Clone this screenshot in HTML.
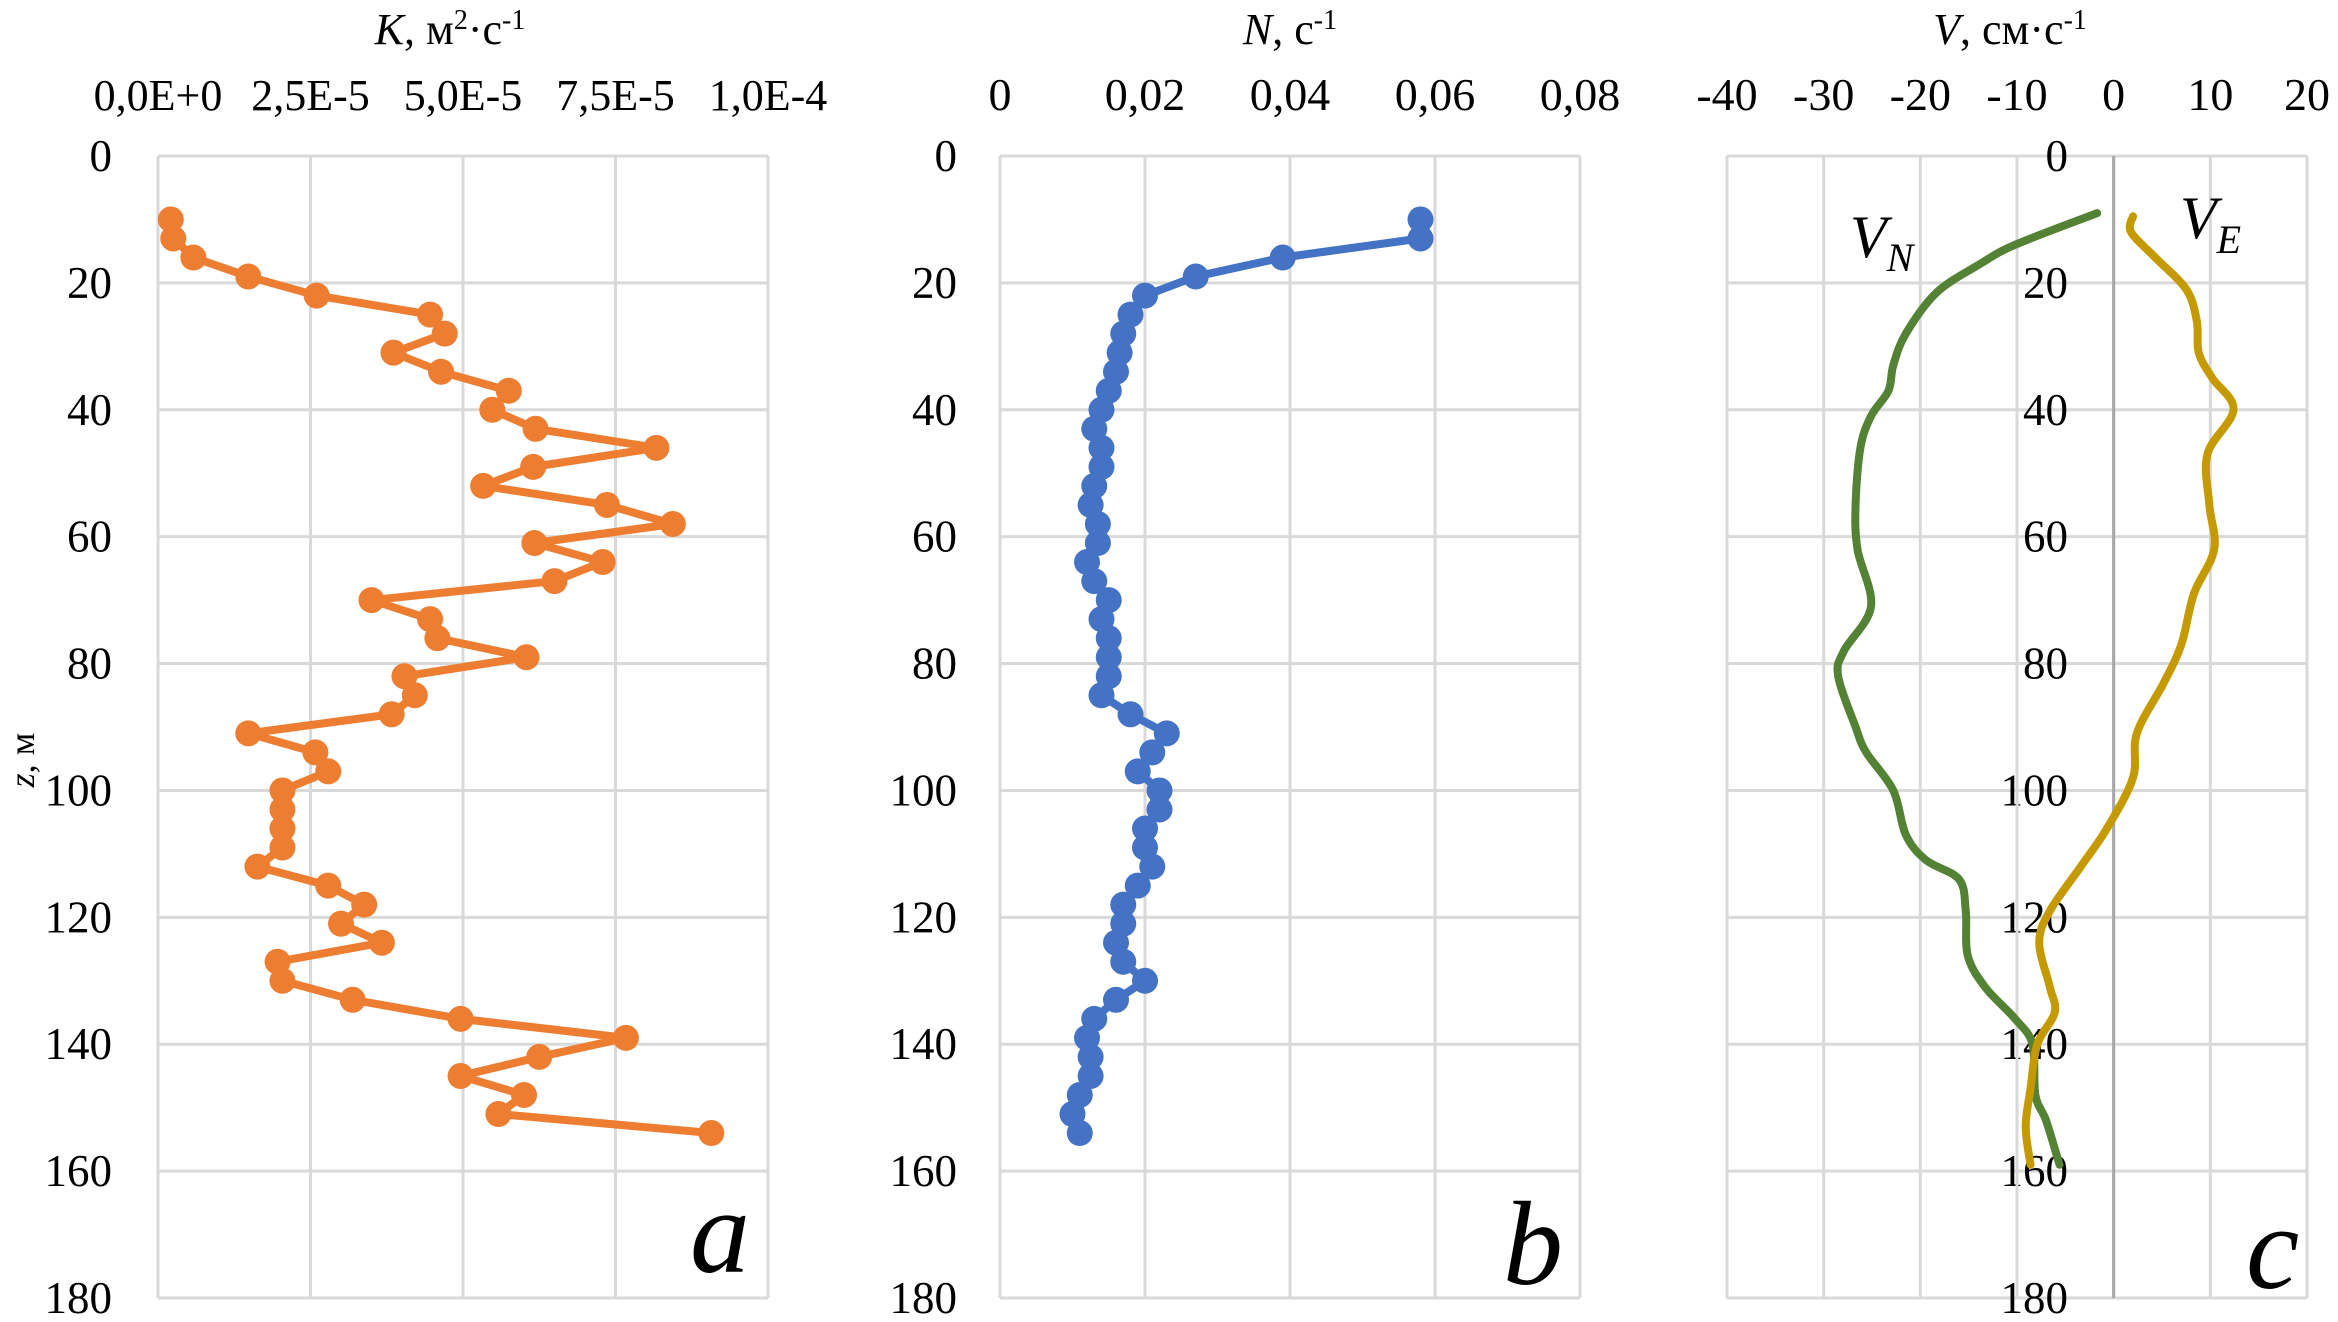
<!DOCTYPE html>
<html><head><meta charset="utf-8"><style>
html,body{margin:0;padding:0;background:#fff}
svg{display:block;font-family:"Liberation Serif","DejaVu Serif",serif}
text{font-family:"Liberation Serif","DejaVu Serif",serif;fill:#000}
</style></head><body>
<svg id="c" width="2338" height="1322" viewBox="0 0 2338 1322" font-family="Liberation Serif, serif" xmlns="http://www.w3.org/2000/svg"></svg>
<script>
// ---- data ----
const depthsK = [10,13,16,19,22,25,28,31,34,37,40,43,46,49,52,55,58,61,64,67,70,73,76,79,82,85,88,91,94,97,100,103,106,109,112,115,118,121,124,127,130,133,136,139,142,145,148,151,154];
const kValues = [0.21,0.25,0.58,1.48,2.6,4.46,4.7,3.86,4.64,5.75,5.48,6.19,8.17,6.15,5.33,7.36,8.44,6.17,7.29,6.5,3.5,4.46,4.58,6.04,4.04,4.21,3.83,1.48,2.58,2.79,2.04,2.04,2.04,2.04,1.63,2.79,3.38,3.0,3.67,1.96,2.04,3.19,4.96,7.67,6.25,4.96,6.0,5.58,9.07]; // ×1e-5
const kTicks = ["0,0E+0","2,5E-5","5,0E-5","7,5E-5","1,0E-4"];
const kTickVals = [0,2.5,5,7.5,10];
const nValues = [0.058,0.058,0.039,0.027,0.020,0.018,0.017,0.0165,0.016,0.015,0.014,0.013,0.014,0.014,0.013,0.0125,0.0135,0.0135,0.012,0.013,0.015,0.014,0.015,0.015,0.015,0.014,0.018,0.023,0.021,0.019,0.022,0.022,0.020,0.020,0.021,0.019,0.017,0.017,0.016,0.017,0.020,0.016,0.013,0.012,0.0125,0.0125,0.011,0.010,0.011];
const nTicks = ["0","0,02","0,04","0,06","0,08"];
const nTickVals = [0,0.02,0.04,0.06,0.08];
const vnDepths = [9,14,17,21.5,28,33,37,41,46,55,62,71,78,82,90,94,100,107,111,114,119,126,131,136,140,148,152,159];
const vnValues = [-1.7,-10.2,-13.8,-18.3,-21.5,-22.8,-23.3,-25.1,-26.2,-26.7,-26.5,-25.1,-27.9,-28.5,-26.7,-25.6,-22.8,-21.5,-19.4,-16.0,-15.3,-15.1,-13.3,-10.2,-8.4,-8.1,-7.0,-5.6];
const veDepths = [9.5,12,16,21,26,31,35,40,47,55,62,69,77,83,91,98,106,112,119,124,131,135,140,147,153,159];
const veValues = [2.0,1.8,4.3,7.5,8.6,8.8,10.2,12.4,9.7,9.9,10.4,8.3,7.0,5.2,2.4,2.0,-0.7,-3.4,-6.6,-7.7,-6.6,-6.1,-7.9,-8.6,-9.1,-8.6];
const vTicks = [-40,-30,-20,-10,0,10,20];
const zTicks = [0,20,40,60,80,100,120,140,160,180];

const NS="http://www.w3.org/2000/svg";
const svg=document.getElementById('c');
function el(tag,attrs,parent){const e=document.createElementNS(NS,tag);for(const k in attrs)e.setAttribute(k,attrs[k]);(parent||svg).appendChild(e);return e;}
const TOP=156,BOT=1298;
const yS=d=>TOP+(d/180)*(BOT-TOP);
const FF='Liberation Serif, serif';

function panel(name,x0,x1,xmin,xmax,xticks,xlabels,ylabelX,ylabelAnchor,xfs){
  const g=el('g',{});
  
  
  const xS=v=>x0+(v-xmin)/(xmax-xmin)*(x1-x0);
  zTicks.forEach(z=>{
    const l=el('line',{x1:x0,x2:x1,y1:yS(z),y2:yS(z),stroke:'#d9d9d9','stroke-width':3},g);
    
    
    const t=el('text',{x:ylabelX,y:yS(z)+15,'font-size':45,'text-anchor':ylabelAnchor,'font-family':FF},g);
    t.textContent=z;
    
    
  });
  xticks.forEach((v,i)=>{
    const l=el('line',{x1:xS(v),x2:xS(v),y1:TOP,y2:BOT,stroke:'#d9d9d9','stroke-width':3},g);
    
    
    const t=el('text',{x:xS(v),y:110,'font-size':xfs,'text-anchor':'middle','font-family':FF},g);
    t.textContent=xlabels[i];
    
    
  });
  return {g,xS};
}

// Panel a
const A=panel('panel-a-k',158,768,0,10,kTickVals,kTicks,112,'end',44);
let pts=depthsK.map((d,i)=>A.xS(kValues[i])+','+yS(d)).join(' ');
let pl=el('polyline',{points:pts,fill:'none',stroke:'#ED7D31','stroke-width':8,'stroke-linejoin':'round'},A.g);


depthsK.forEach((d,i)=>{const c=el('circle',{cx:A.xS(kValues[i]),cy:yS(d),r:13,fill:'#ED7D31'},A.g);

});

// Panel b
const B=panel('panel-b-n',1000,1580,0,0.08,nTickVals,nTicks,957,'end',46);
pts=depthsK.map((d,i)=>B.xS(nValues[i])+','+yS(d)).join(' ');
pl=el('polyline',{points:pts,fill:'none',stroke:'#4472C4','stroke-width':8,'stroke-linejoin':'round'},B.g);


depthsK.forEach((d,i)=>{const c=el('circle',{cx:B.xS(nValues[i]),cy:yS(d),r:13,fill:'#4472C4'},B.g);

});

// Panel c
const C=panel('panel-c-v',1727,2307,-40,20,vTicks,vTicks.map(String),2068,'end',46);
const zl=el('line',{x1:C.xS(0),x2:C.xS(0),y1:TOP,y2:BOT,stroke:'#a6a6a6','stroke-width':3},C.g);


function smooth(xs,ys){let d='M'+xs[0]+','+ys[0];for(let i=0;i<xs.length-1;i++){const p0=[xs[Math.max(i-1,0)],ys[Math.max(i-1,0)]],p1=[xs[i],ys[i]],p2=[xs[i+1],ys[i+1]],p3=[xs[Math.min(i+2,xs.length-1)],ys[Math.min(i+2,xs.length-1)]];
d+=' C'+(p1[0]+(p2[0]-p0[0])/6)+','+(p1[1]+(p2[1]-p0[1])/6)+' '+(p2[0]-(p3[0]-p1[0])/6)+','+(p2[1]-(p3[1]-p1[1])/6)+' '+p2[0]+','+p2[1];}return d;}
let p=el('path',{d:smooth(vnValues.map(C.xS),vnDepths.map(yS)),fill:'none',stroke:'#548235','stroke-width':8,'stroke-linecap':'round'},C.g);


p=el('path',{d:smooth(veValues.map(C.xS),veDepths.map(yS)),fill:'none',stroke:'#C49A00','stroke-width':8,'stroke-linecap':'round'},C.g);


</script>
<script>
(function(){
const svg=document.getElementById('c');
svg.insertAdjacentHTML('beforeend',`
<text x="450" y="44" font-size="44" font-family="Liberation Serif, serif" text-anchor="middle"><tspan font-style="italic">K</tspan>, м<tspan font-size="28" dy="-15">2</tspan><tspan dy="15">·с</tspan><tspan font-size="28" dy="-15">-1</tspan></text>
<text x="1290" y="44" font-size="44" font-family="Liberation Serif, serif" text-anchor="middle"><tspan font-style="italic">N</tspan>, с<tspan font-size="28" dy="-15">-1</tspan></text>
<text x="2010" y="44" font-size="44" font-family="Liberation Serif, serif" text-anchor="middle"><tspan font-style="italic">V</tspan>, см·с<tspan font-size="28" dy="-15">-1</tspan></text>
<text transform="translate(34,760) rotate(-90)" font-size="36" font-family="Liberation Serif, serif" text-anchor="middle"><tspan font-style="italic">z</tspan>, м</text>
<text x="690" y="1272" font-size="120" font-family="Liberation Serif, serif" font-style="italic">a</text>
<text x="1503" y="1284" font-size="120" font-family="Liberation Serif, serif" font-style="italic">b</text>
<text x="2246" y="1288" font-size="120" font-family="Liberation Serif, serif" font-style="italic">c</text>
<text x="1850" y="257" font-size="60" font-family="Liberation Serif, serif" font-style="italic">V<tspan font-size="40" dy="14">N</tspan></text>
<text x="2180" y="238" font-size="60" font-family="Liberation Serif, serif" font-style="italic">V<tspan font-size="40" dy="15">E</tspan></text>
`);
})();
</script>
</body></html>
